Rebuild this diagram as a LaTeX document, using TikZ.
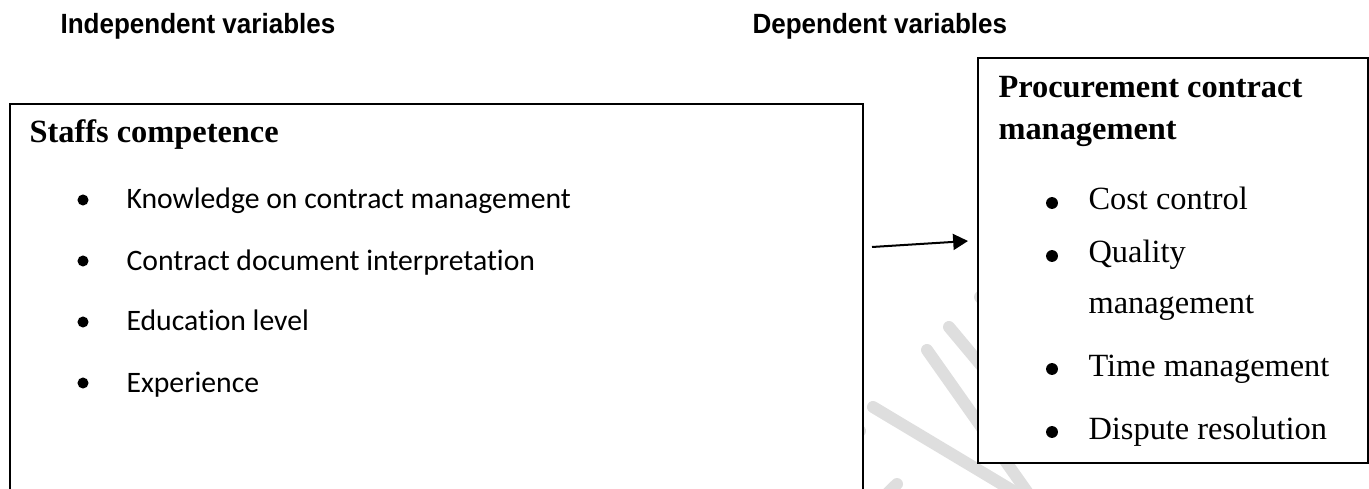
\documentclass[tikz,border=0pt]{standalone}
\usepackage{fontspec}
\setmainfont{Liberation Serif}
\newfontfamily\hdrfont[FakeStretch=0.936]{Liberation Sans}
\newfontfamily\calfont[Ligatures=NoCommon]{Carlito}
\usetikzlibrary{arrows.meta}
\definecolor{wmgray}{HTML}{DEDEDE}
\begin{document}
\begin{tikzpicture}[x=0.3704pt,y=-0.3704pt,
  wm/.style={draw=wmgray, line width=4.44pt, line cap=round},
  box/.style={draw, line width=0.74pt, fill=white, anchor=north west, inner sep=0pt},
  txt/.style={anchor=base west, inner sep=0pt},
  hdr/.style={txt, font=\hdrfont\fontsize{10.3pt}{12pt}\selectfont\bfseries},
  ttl/.style={txt, font=\fontsize{12pt}{14pt}\selectfont\bfseries},
  litem/.style={txt, font=\calfont\fontsize{11pt}{13pt}\selectfont},
  ritem/.style={txt, font=\fontsize{12pt}{14pt}\selectfont},
  bul/.style={circle, fill=black, inner sep=0pt, minimum size=4.1pt},
  rbul/.style={bul, minimum size=4.4pt},
  conn/.style={line width=0.74pt, -{Triangle[length=5.5pt,width=5.9pt]}}]
\clip (0,0) rectangle (1369,489);
% watermark
\draw[wm] (873,407) -- (1015,492);
\draw[wm] (927,350) -- (1030,496);
\draw[wm] (949,327) -- (990,376);
\draw[wm] (980,297) -- (1010,333);
\draw[wm] (897,484) -- (860,520);
\draw[wm] (860,431) -- (830,455);
% headers
\node[hdr] (h1) at (60,34) {Independent variables};
\node[hdr] (h2) at (752,34) {Dependent variables};
% boxes
\node[box, minimum width=316pt, minimum height=158pt] (lbox) at (9,103) {};
\node[box, minimum width=144.5pt, minimum height=150pt] (rbox) at (977,57) {};
% left box content
\node[ttl] (lt) at (29,143) {Staffs competence};
\foreach \yb/\nm/\t in {209/l1/Knowledge on contract management,
                        270/l2/Contract document interpretation,
                        331/l3/Education level,
                        392/l4/Experience}{
  \node[bul] (b\nm) at (83,\yb-9) {};
  \node[litem] (\nm) at (126,\yb) {\t};
}
% right box content
\node[ttl] (rt1) at (998,98) {Procurement contract};
\node[ttl] (rt2) at (998,140) {management};
\node[rbul] (br1) at (1052,203) {};
\node[ritem] (r1) at (1088,210) {Cost control};
\node[rbul] (br2) at (1052,256) {};
\node[ritem] (r2a) at (1088,263) {Quality};
\node[ritem] (r2b) at (1088,313) {management};
\node[rbul] (br3) at (1052,369) {};
\node[ritem] (r3) at (1088,376) {Time management};
\node[rbul] (br4) at (1052,432) {};
\node[ritem] (r4) at (1088,439) {Dispute resolution};
% connector
\coordinate (a1) at (872,247);
\coordinate (a2) at (968,241);
\draw[conn] (a1) -- (a2);
\end{tikzpicture}
\end{document}
